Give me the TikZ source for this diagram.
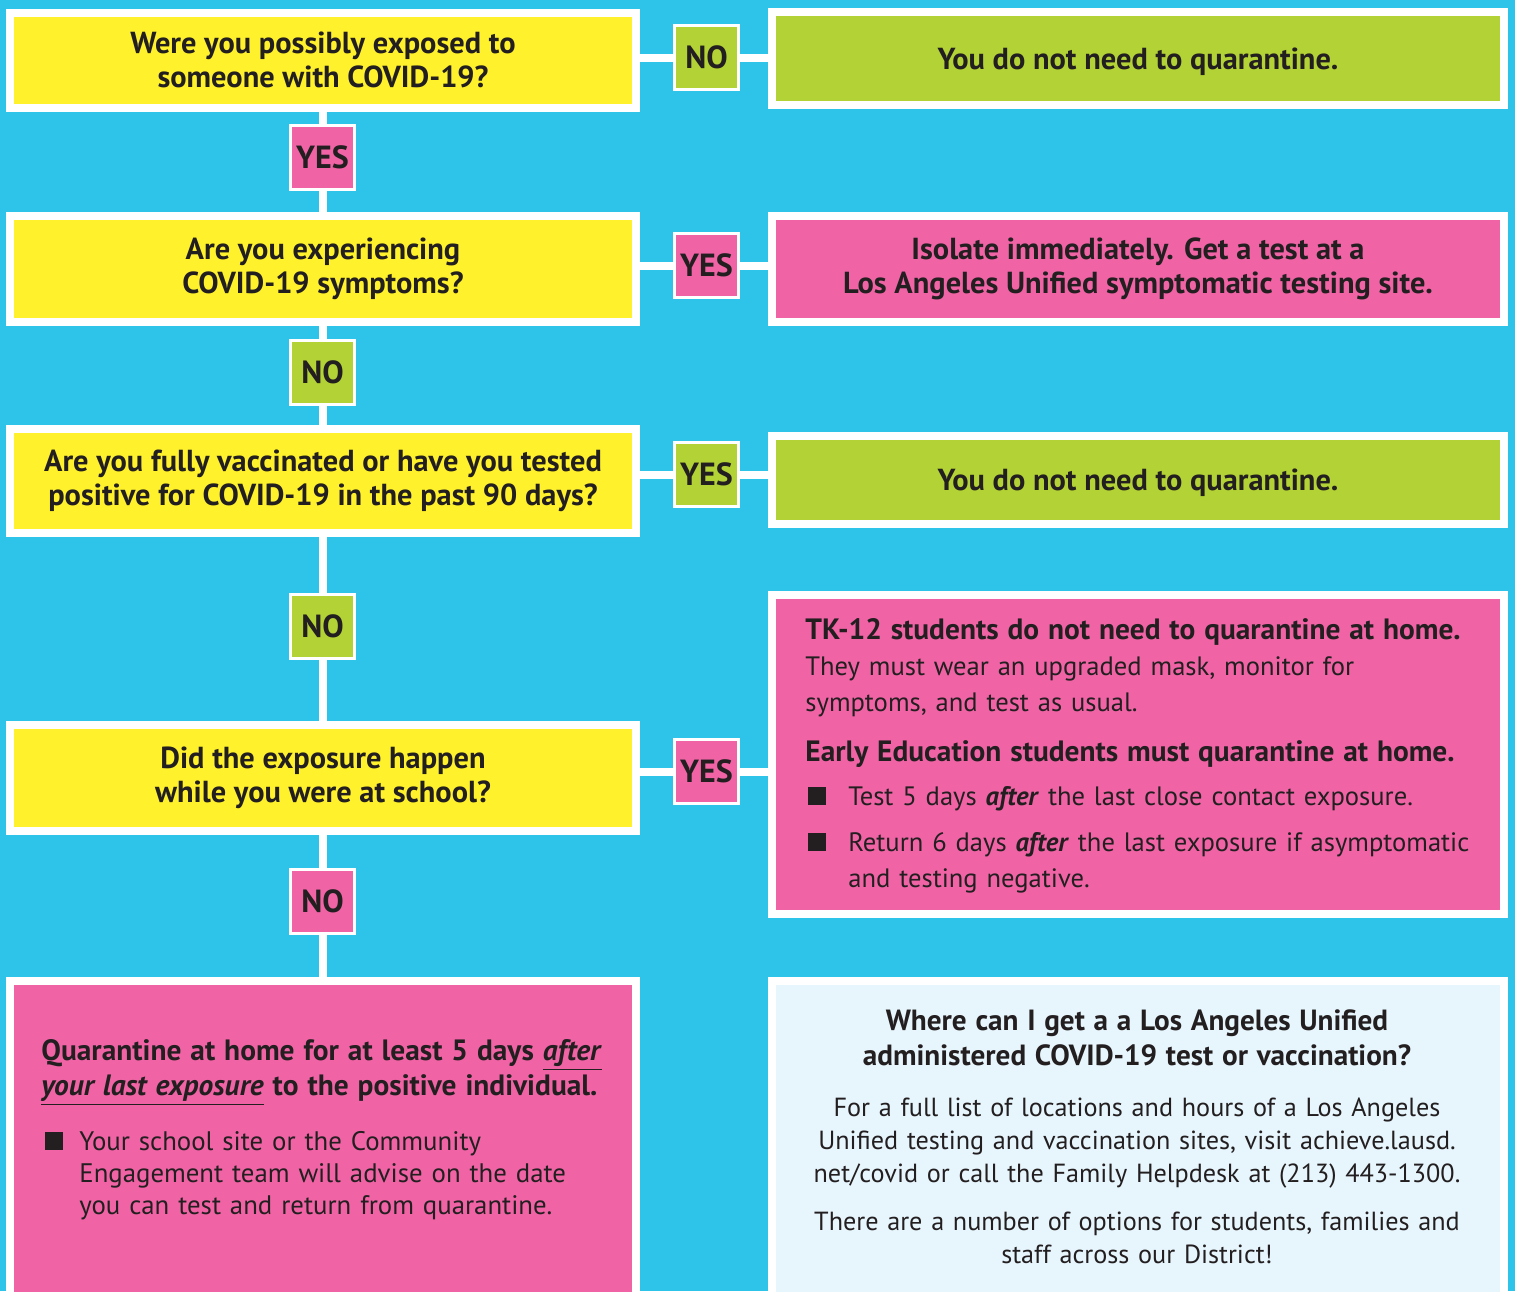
\documentclass[tikz,border=0pt]{standalone}
\usepackage{fontspec}
\setmainfont{PT Sans}
\usetikzlibrary{positioning}
\definecolor{lausdcyan}{HTML}{2EC4E9}
\definecolor{qyellow}{HTML}{FFF22D}
\definecolor{okgreen}{HTML}{B2D235}
\definecolor{alertpink}{HTML}{F064A6}
\definecolor{infoblue}{HTML}{E7F5FC}
\definecolor{ink}{HTML}{231F20}
\tikzset{
  qbox/.style={draw=white,line width=4pt,fill=qyellow,text=ink,align=center,inner sep=0pt,
    minimum width=313pt,font=\bfseries\fontsize{15.2}{17}\selectfont},
  abox/.style={draw=white,line width=4pt,text=ink,align=center,inner sep=0pt,
    minimum width=366pt,font=\bfseries\fontsize{15.2}{17}\selectfont},
  oneline/.style={text depth=0pt},
  tag/.style={draw=white,line width=1.5pt,minimum size=32pt,inner sep=0pt,text=ink,
    font=\bfseries\fontsize{16}{18}\selectfont},
  link/.style={draw=white,line width=4pt},
  bodytext/.style={inner sep=0pt,text=ink}
}
\newcommand{\sqbullet}[2]{\makebox[#1][l]{\hspace{#2}\rule{9pt}{9pt}}}
\begin{document}
\begin{tikzpicture}[x=0.5pt,y=-0.5pt]
  \clip (0,0) rectangle (1515,1291);
  \fill[lausdcyan] (0,0) rectangle (1515,1291);

  % questions
  \node[qbox,minimum height=47.5pt] (q1) at (323,60) {Were you possibly exposed to\\someone with COVID-19?};
  \node[qbox,minimum height=53pt] (q2) at (323,268.5) {Are you experiencing\\COVID-19 symptoms?};
  \node[qbox,minimum height=52pt] (q3) at (323,480.5) {Are you fully vaccinated or have you tested\\positive for COVID-19 in the past 90 days?};
  \node[qbox,minimum height=53pt] (q4) at (323,778) {Did the exposure happen\\while you were at school?};
  \node[qbox,fill=alertpink,minimum height=164.5pt] (q5) at (323,1145.5) {};

  % answers
  \node[abox,oneline,fill=okgreen,minimum height=46.5pt] (r1) at (1138,58.5) {You do not need to quarantine.};
  \node[abox,fill=alertpink,minimum height=53pt] (r2) at (1138,268.5) {Isolate immediately. Get a test at a\\Los Angeles Unified symptomatic testing site.};
  \node[abox,oneline,fill=okgreen,minimum height=44pt] (r3) at (1138,480) {You do not need to quarantine.};
  \node[abox,fill=alertpink,minimum height=159.5pt] (r4) at (1138,754.5) {};
  \node[abox,fill=infoblue,minimum height=162.5pt] (r5) at (1138,1143.5) {};

  % yes / no tags
  \node[tag,fill=alertpink] (y1) at (322.5,157.5) {YES};
  \node[tag,fill=okgreen] (n2) at (322.5,372.5) {NO};
  \node[tag,fill=okgreen] (n3) at (322.5,626.5) {NO};
  \node[tag,fill=alertpink] (n4) at (322.5,901.5) {NO};
  \node[tag,fill=okgreen] (n1) at (706.5,57.5) {NO};
  \node[tag,fill=alertpink] (y2) at (706.5,265.5) {YES};
  \node[tag,fill=okgreen] (y3) at (706.5,474.5) {YES};
  \node[tag,fill=alertpink] (y4) at (706.5,771.5) {YES};

  \draw[link] (y1.north) -- (y1.north |- q1.south);
  \draw[link] (y1.south) -- (y1.south |- q2.north);
  \draw[link] (n2.north) -- (n2.north |- q2.south);
  \draw[link] (n2.south) -- (n2.south |- q3.north);
  \draw[link] (n3.north) -- (n3.north |- q3.south);
  \draw[link] (n3.south) -- (n3.south |- q4.north);
  \draw[link] (n4.north) -- (n4.north |- q4.south);
  \draw[link] (n4.south) -- (n4.south |- q5.north);

  \draw[link] (n1.west -| q1.east) -- (n1.west);
  \draw[link] (n1.east) -- (n1.east -| r1.west);
  \draw[link] (y2.west -| q2.east) -- (y2.west);
  \draw[link] (y2.east) -- (y2.east -| r2.west);
  \draw[link] (y3.west -| q3.east) -- (y3.west);
  \draw[link] (y3.east) -- (y3.east -| r3.west);
  \draw[link] (y4.west -| q4.east) -- (y4.west);
  \draw[link] (y4.east) -- (y4.east -| r4.west);

  % box texts
  \node[bodytext,anchor=north west,align=left,text width=350pt,font=\fontsize{13.3}{18}\selectfont] (tktext) at (805,618) {%
    {\bfseries\fontsize{14.7}{18}\selectfont TK-12 students do not need to quarantine at home.}\\
    They must wear an upgraded mask, monitor for\\
    symptoms, and test as usual.\\[7pt]
    {\bfseries\fontsize{14.7}{18}\selectfont Early Education students must quarantine at home.}\\[4pt]
    \sqbullet{21.5pt}{1.5pt}Test 5 days \textbf{\textit{after}} the last close contact exposure.\\[5pt]
    \sqbullet{21.5pt}{1.5pt}Return 6 days \textbf{\textit{after}} the last exposure if asymptomatic\\
    \hspace*{21.5pt}and testing negative.};

  \node[bodytext,anchor=north west,align=left,text width=300pt,font=\fontsize{13.4}{16}\selectfont] (quartext) at (41,1039) {%
    {\bfseries\fontsize{14.7}{17.5}\selectfont Quarantine at home for at least 5 days \underline{\textit{after}}\\
    \underline{\textit{your last exposure}} to the positive individual.\\[11.5pt]}
    \sqbullet{19pt}{2pt}Your school site or the Community\\
    \hspace*{19pt}Engagement team will advise on the date\\
    \hspace*{19pt}you can test and return from quarantine.};

  \node[bodytext,anchor=north,align=center,text width=350pt,font=\fontsize{13.1}{16.5}\selectfont] (infotext) at (1137,1009) {%
    {\bfseries\fontsize{14.6}{17.5}\selectfont Where can I get a a Los Angeles Unified\\
    administered COVID-19 test or vaccination?\\[9pt]}
    For a full list of locations and hours of a Los Angeles\\
    Unified testing and vaccination sites, visit achieve.lausd.\\
    net/covid or call the Family Helpdesk at (213) 443-1300.\\[7.5pt]
    There are a number of options for students, families and\\
    staff across our District!};
\end{tikzpicture}
\end{document}
